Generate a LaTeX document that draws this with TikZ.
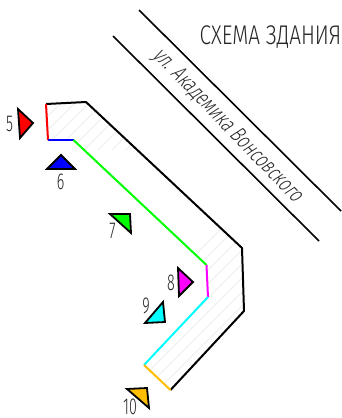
\documentclass[tikz,border=0pt]{standalone}
\usepackage{fontspec}
\setmainfont[FakeStretch=0.77]{Fira Sans Light}
\newfontfamily\streetfont[FakeStretch=0.72,FakeSlant=0.2]{Fira Sans Light}
\newfontfamily\numfont[FakeStretch=0.62]{Fira Sans Light}
\definecolor{cred}{RGB}{255,0,0}
\definecolor{cblue}{RGB}{0,0,255}
\definecolor{cgreen}{RGB}{0,255,0}
\definecolor{cmag}{RGB}{255,0,255}
\definecolor{ccyan}{RGB}{0,255,255}
\definecolor{corange}{RGB}{255,191,0}
\tikzset{
  wallline/.style={line width=2pt,line join=round},
  marker/.style={draw=black,line width=1.8pt,line join=miter},
  numlabel/.style={inner sep=0pt,font=\numfont\fontsize{23}{23}\selectfont,text=black!85},
  roadline/.style={line width=1.6pt,black}
}
\begin{document}
\begin{tikzpicture}[x=1pt,y=-1pt]
\useasboundingbox (0,0) rectangle (341,418);
\fill[white] (0,0) rectangle (341,418);
\coordinate (a) at (46,104); \coordinate (b) at (48,140); \coordinate (c) at (73.5,140);
\coordinate (d) at (206.5,265); \coordinate (e) at (208,297); \coordinate (f) at (144,365);
\coordinate (g) at (170.5,390); \coordinate (h) at (244,311); \coordinate (i) at (242,248);
\coordinate (j) at (86,102);
\begin{scope}
\clip (a)--(b)--(c)--(d)--(e)--(f)--(g)--(h)--(i)--(j)--cycle;
\foreach \k in {0,14,...,560}{
  \draw[black!5,line width=1.2pt] (\k,150) -- ++(300,-300);
  \draw[black!5,line width=1.2pt] (\k,450) -- ++(300,-300);
}
\end{scope}
\draw[wallline,black] (g)--(h)--(i)--(j)--(a);
\draw[wallline,cred] (a)--(b);
\draw[wallline,cblue] (b)--(c);
\draw[wallline,cgreen] (c)--(d);
\draw[wallline,cmag] (d)--(e);
\draw[wallline,ccyan] (e)--(f);
\draw[wallline,corange] (f)--(g);
\coordinate (r1) at (139,10); \coordinate (r2) at (341,211);
\coordinate (r3) at (113,36); \coordinate (r4) at (319,241);
\draw[roadline] (r1)--(r2);
\draw[roadline] (r3)--(r4);
\node[inner sep=0pt,font=\fontsize{27}{27}\selectfont,text=black!85] (title) at (270.5,37) {СХЕМА ЗДАНИЯ};
\node[inner sep=0pt,rotate=-46,font=\streetfont\fontsize{22.5}{22.5}\selectfont,text=black!85] (street) at (227,126) {ул. Академика Вонсовского};
\draw[marker,fill=cred] (18,109)--(33,123)--(20,138)--cycle;
\draw[marker,fill=cblue] (47,169)--(61,155)--(75,169)--cycle;
\draw[marker,fill=cgreen] (110,214)--(130,214)--(131,233)--cycle;
\draw[marker,fill=cmag] (178,268)--(193,282)--(179,296)--cycle;
\draw[marker,fill=ccyan] (163,302)--(165,322)--(145,323)--cycle;
\draw[marker,fill=corange] (127,389)--(147,388)--(149,408)--cycle;
\node[numlabel] (n5) at (9.5,124) {5};
\node[numlabel] (n6) at (60.5,182) {6};
\node[numlabel] (n7) at (112.5,231) {7};
\node[numlabel] (n8) at (171,283) {8};
\node[numlabel] (n9) at (146,306) {9};
\node[numlabel] (n10) at (130,407) {10};
\end{tikzpicture}
\end{document}
